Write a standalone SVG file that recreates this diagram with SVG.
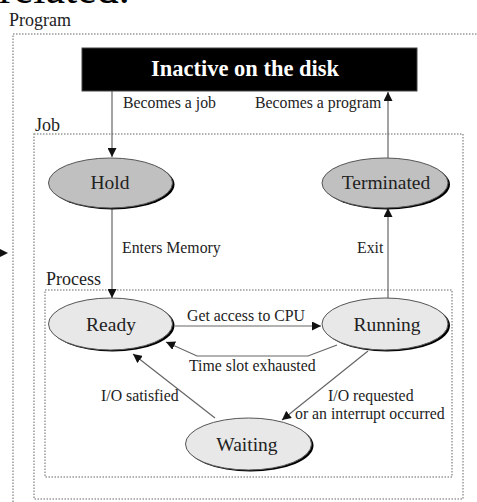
<svg xmlns="http://www.w3.org/2000/svg" width="477" height="502" viewBox="0 0 477 502">
<style>
text{font-family:"Liberation Serif","Times New Roman",serif;fill:#222}
.box{fill:none;stroke:#999;stroke-width:1.5;stroke-dasharray:1.5 1.5}
.lbl{font-size:15.8px}
.nd{font-size:19.5px;text-anchor:middle}
.ln{fill:none;stroke:#666;stroke-width:1.2}
.sh{fill:#000}
.dark{fill:#c0c0c0;stroke:#555;stroke-width:1}
.light{fill:#e8e8e8;stroke:#555;stroke-width:1}
</style>
<defs>
<marker id="ah" viewBox="0 0 10 10" refX="10" refY="5" markerWidth="9" markerHeight="9" markerUnits="userSpaceOnUse" orient="auto">
<path d="M0,0 L10,5 L0,10 z" fill="#111"/>
</marker>
</defs>
<rect width="477" height="502" fill="#fff"/>
<text x="-1" y="3" style="font-size:44px;fill:#000">related.</text>
<g id="frames">
<rect class="box" x="13" y="34" width="480" height="480"/>
<text x="9" y="26" style="font-size:18px">Program</text>
<rect class="box" x="34" y="134" width="429" height="365"/>
<text x="35" y="131" style="font-size:18px">Job</text>
<rect class="box" x="45" y="290" width="407" height="187"/>
<text x="46" y="285" style="font-size:18px">Process</text>
</g>
<g id="connectors">
<line class="ln" x1="112" y1="91" x2="112" y2="157" marker-end="url(#ah)"/>
<line class="ln" x1="388" y1="158" x2="388" y2="92" marker-end="url(#ah)"/>
<line class="ln" x1="112" y1="208" x2="112" y2="298" marker-end="url(#ah)"/>
<line class="ln" x1="388" y1="298" x2="388" y2="208" marker-end="url(#ah)"/>
<line class="ln" x1="175" y1="326" x2="321" y2="326" marker-end="url(#ah)"/>
<polyline class="ln" points="337,345 308,356 197,356 166,342" marker-end="url(#ah)"/>
<line class="ln" x1="215" y1="418" x2="133" y2="354" marker-end="url(#ah)"/>
<line class="ln" x1="368" y1="351" x2="282" y2="420" marker-end="url(#ah)"/>
<path d="M0,249 L8,253 L0,257 z" fill="#111"/>
<text class="lbl" x="123" y="108">Becomes a job</text>
<text class="lbl" x="255" y="108">Becomes a program</text>
<text class="lbl" x="122" y="253">Enters Memory</text>
<text class="lbl" x="357" y="253">Exit</text>
<text class="lbl" x="187" y="321">Get access to CPU</text>
<text class="lbl" x="189" y="371">Time slot exhausted</text>
<text class="lbl" x="101" y="401">I/O satisfied</text>
<text class="lbl" x="328" y="401">I/O requested</text>
<text class="lbl" x="295" y="419">or an interrupt occurred</text>
</g>
<g id="inactive">
<rect x="82" y="48" width="335" height="43" fill="#000" stroke="#444"/>
<text x="245" y="76" style="font-size:22.5px;font-weight:bold;fill:#fff;text-anchor:middle">Inactive on the disk</text>
</g>
<g id="hold">
<ellipse class="sh" cx="112.5" cy="184.5" rx="62" ry="25"/>
<ellipse class="dark" cx="110.5" cy="183" rx="62" ry="25"/>
<text class="nd" x="110" y="189">Hold</text>
</g>
<g id="terminated">
<ellipse class="sh" cx="387" cy="184.5" rx="63" ry="25"/>
<ellipse class="dark" cx="385" cy="183" rx="63" ry="25"/>
<text class="nd" x="386" y="189">Terminated</text>
</g>
<g id="ready">
<ellipse class="sh" cx="112.5" cy="325.5" rx="62" ry="26"/>
<ellipse class="light" cx="110.5" cy="324" rx="62" ry="26"/>
<text class="nd" x="111" y="331">Ready</text>
</g>
<g id="running">
<ellipse class="sh" cx="387" cy="325.5" rx="63" ry="26"/>
<ellipse class="light" cx="385" cy="324" rx="63" ry="26"/>
<text class="nd" x="387" y="331">Running</text>
</g>
<g id="waiting">
<ellipse class="sh" cx="250.5" cy="445.5" rx="63" ry="26"/>
<ellipse class="light" cx="248.5" cy="444" rx="63" ry="26"/>
<text class="nd" x="247" y="451">Waiting</text>
</g>
</svg>
